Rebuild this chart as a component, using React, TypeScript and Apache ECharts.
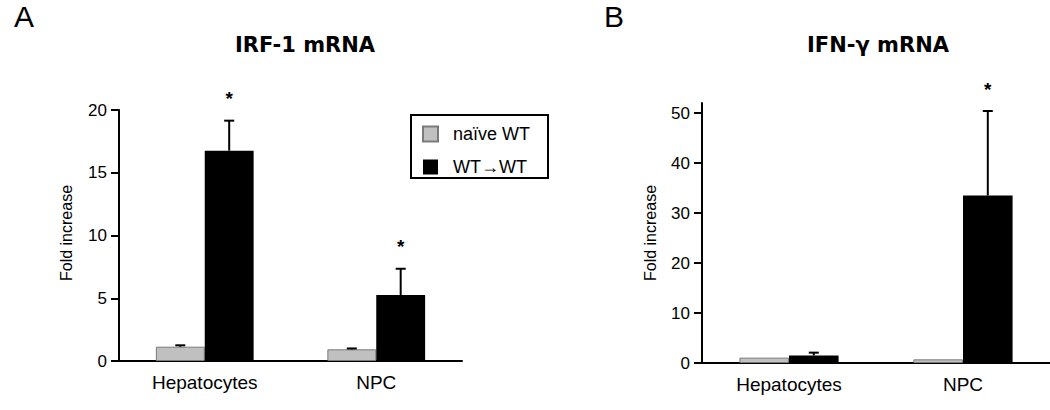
import React, { useEffect, useRef } from "react";
import * as echarts from "echarts";

const categories = ["Hepatocytes", "NPC"];
const seriesNames = ["naïve WT", "WT→WT"];

// Panel A: IRF-1 mRNA
const irfNaive = [1.14, 0.93];
const irfNaiveErr = [1.25, 1.0];
const irfWT = [16.76, 5.26];
const irfWTErr = [19.15, 7.35];
const irfStar = [1, 1];

// Panel B: IFN-γ mRNA
const ifnNaive = [1.07, 0.73];
const ifnNaiveErr = [1.07, 0.73];
const ifnWT = [1.5, 33.5];
const ifnWTErr = [2.07, 50.4];
const ifnStar = [0, 1];

const yTicksA = [0, 5, 10, 15, 20];
const yTicksB = [0, 10, 20, 30, 40, 50];

const FONT = "'Liberation Sans', Arial, sans-serif";
const GAP = 0.43;

function errSeries(
  vals: number[],
  errs: number[],
  stars: number[],
  side: number,
  axis: number
) {
  return {
    type: "custom",
    xAxisIndex: axis,
    yAxisIndex: axis,
    z: 5,
    silent: true,
    data: vals.map((v, i) => [i, v, errs[i], stars[i]]),
    encode: { x: 0, y: [1, 2] },
    renderItem: (params: any, api: any) => {
      const i = api.value(0);
      const v = api.value(1);
      const e = api.value(2);
      const s = api.value(3);
      const p = api.coord([i, v]);
      const pe = api.coord([i, e]);
      const band = api.size([1, 0])[0];
      const bw = (band * (1 - GAP)) / 2;
      const cx = p[0] + (side * bw) / 2;
      const children: any[] = [];
      if (e > v) {
        children.push({
          type: "line",
          shape: { x1: cx, y1: p[1], x2: cx, y2: pe[1] },
          style: { stroke: "#000", lineWidth: 2 },
        });
        children.push({
          type: "line",
          shape: { x1: cx - 5, y1: pe[1], x2: cx + 5, y2: pe[1] },
          style: { stroke: "#000", lineWidth: 2 },
        });
      }
      if (s) {
        children.push({
          type: "text",
          x: cx,
          y: pe[1] - 22,
          style: {
            text: "*",
            font: `bold 19px ${FONT}`,
            fill: "#000",
            align: "center",
            verticalAlign: "middle",
          },
        });
      }
      return { type: "group", children };
    },
  };
}

export default function App() {
  const ref = useRef<HTMLDivElement>(null);
  useEffect(() => {
    if (!ref.current) return;
    const chart = echarts.init(ref.current, undefined, { renderer: "svg" });
    const axisLine = { show: true, lineStyle: { color: "#000", width: 2 } };
    const xAxisBase = {
      type: "category",
      data: categories,
      axisLine,
      axisTick: { show: false },
      axisLabel: { color: "#000", fontSize: 19, fontFamily: FONT, margin: 12 },
      splitLine: { show: false },
    };
    const yAxisBase = {
      type: "value",
      min: 0,
      axisLine,
      axisTick: { show: true, inside: false, length: 8, lineStyle: { color: "#000", width: 2 } },
      axisLabel: { color: "#000", fontSize: 17, fontFamily: FONT, margin: 12 },
      splitLine: { show: false },
    };
    const grayStyle = { color: "#c0c0c0", borderColor: "#7a7a7a", borderWidth: 1 };
    const blackStyle = { color: "#000" };
    chart.setOption({
      animation: false,
      grid: [
        { left: 119, top: 110, width: 343, height: 251 },
        { left: 702, top: 103, width: 348, height: 260 },
      ],
      xAxis: [
        { ...xAxisBase, gridIndex: 0 },
        { ...xAxisBase, gridIndex: 1 },
      ],
      yAxis: [
        {
          ...yAxisBase,
          gridIndex: 0,
          max: 20,
          interval: 5,
          axisLabel: { ...yAxisBase.axisLabel, customValues: yTicksA },
          axisTick: { ...yAxisBase.axisTick, customValues: yTicksA },
        },
        {
          ...yAxisBase,
          gridIndex: 1,
          max: 52,
          axisLabel: { ...yAxisBase.axisLabel, customValues: yTicksB },
          axisTick: { ...yAxisBase.axisTick, customValues: yTicksB },
        },
      ],
      legend: {
        orient: "vertical",
        left: 422,
        top: 125,
        itemWidth: 15,
        itemHeight: 15,
        itemGap: 15,
        icon: "rect",
        padding: 0,
        data: seriesNames,
        textStyle: { color: "#000", fontSize: 18, fontFamily: FONT, padding: [0, 0, 0, 10] },
      },
      series: [
        { type: "bar", name: seriesNames[0], xAxisIndex: 0, yAxisIndex: 0, data: irfNaive, barGap: 0, barCategoryGap: "43%", itemStyle: grayStyle },
        { type: "bar", name: seriesNames[1], xAxisIndex: 0, yAxisIndex: 0, data: irfWT, barGap: 0, barCategoryGap: "43%", itemStyle: blackStyle },
        { type: "bar", name: seriesNames[0], xAxisIndex: 1, yAxisIndex: 1, data: ifnNaive, barGap: 0, barCategoryGap: "43%", itemStyle: grayStyle },
        { type: "bar", name: seriesNames[1], xAxisIndex: 1, yAxisIndex: 1, data: ifnWT, barGap: 0, barCategoryGap: "43%", itemStyle: blackStyle },
        errSeries(irfNaive, irfNaiveErr, [0, 0], -1, 0),
        errSeries(irfWT, irfWTErr, irfStar, 1, 0),
        errSeries(ifnNaive, ifnNaiveErr, [0, 0], -1, 1),
        errSeries(ifnWT, ifnWTErr, ifnStar, 1, 1),
      ],
      graphic: [
        { type: "text", x: 24, y: 16, style: { text: "A", font: `30px ${FONT}`, fill: "#000", align: "center", verticalAlign: "middle" } },
        { type: "text", x: 614, y: 16, style: { text: "B", font: `30px ${FONT}`, fill: "#000", align: "center", verticalAlign: "middle" } },
        { type: "text", x: 305, y: 45, style: { text: "IRF-1 mRNA", font: `bold 21px 'DejaVu Sans', sans-serif`, fill: "#000", align: "center", verticalAlign: "middle" } },
        { type: "text", x: 878, y: 45, style: { text: "IFN-γ mRNA", font: `bold 21px 'DejaVu Sans', sans-serif`, fill: "#000", align: "center", verticalAlign: "middle" } },
        { type: "text", x: 66, y: 233, rotation: Math.PI / 2, style: { text: "Fold increase", font: `16px ${FONT}`, fill: "#000", align: "center", verticalAlign: "middle" } },
        { type: "text", x: 650, y: 233, rotation: Math.PI / 2, style: { text: "Fold increase", font: `16px ${FONT}`, fill: "#000", align: "center", verticalAlign: "middle" } },
        { type: "rect", shape: { x: 411, y: 115, width: 137, height: 63 }, style: { fill: "none", stroke: "#000", lineWidth: 2 } },
      ],
    });
    return () => chart.dispose();
  }, []);
  return (
    <div
      ref={ref}
      style={{ position: "fixed", left: 0, top: 0, width: 1050, height: 410, background: "#fff" }}
    />
  );
}
